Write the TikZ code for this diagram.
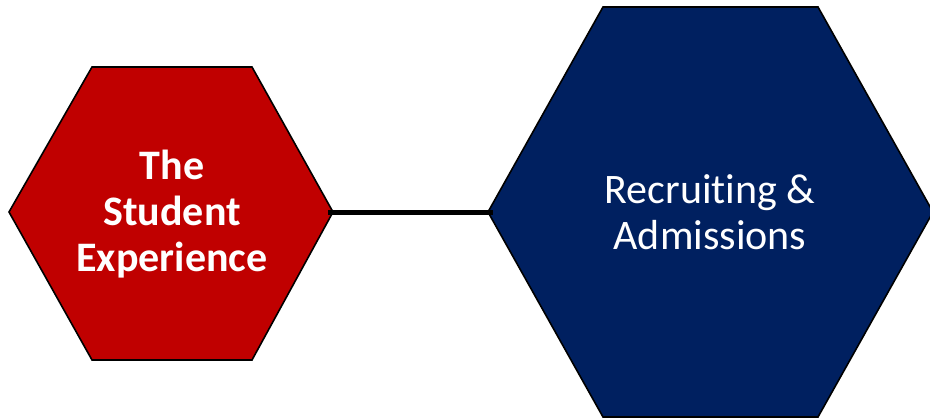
\documentclass[tikz,border=0pt]{standalone}
\usepackage{fontspec}
\setmainfont[Ligatures=NoCommon]{Carlito}
\definecolor{hexred}{HTML}{C00000}
\definecolor{hexblue}{HTML}{002060}
\tikzset{
  hexagon/.style={draw=black, line width=1.6pt, line join=miter},
  hexlabel/.style={text=white, align=center, font=\fontsize{42}{46}\selectfont},
  link/.style={draw=black, line width=5pt}
}
\begin{document}
\begin{tikzpicture}[x=1pt,y=-1pt]
\useasboundingbox (0,0) rectangle (930,420);
\fill[white] (0,0) rectangle (930,420);
\clip (0,0) rectangle (930,420);
% left hexagon
\coordinate (redW) at (9,212);
\coordinate (redE) at (333,212);
\fill[hexred] (redW) -- (92,67) -- (252,67) -- (redE) -- (252,360) -- (92,360) -- cycle;
\draw[hexagon] (redW) -- (92,67) -- (252,67) -- (redE) -- (252,360) -- (92,360) -- cycle;
% right hexagon
\coordinate (blueW) at (488,212);
\coordinate (blueE) at (933,212);
\fill[hexblue] (blueW) -- (603,7) -- (818,7) -- (blueE) -- (818,417) -- (603,417) -- cycle;
\draw[hexagon] (blueW) -- (603,7) -- (818,7) -- (blueE) -- (818,417) -- (603,417) -- cycle;
% connector
\draw[link, shorten <=-5pt, shorten >=-5pt] (redE) -- (blueW);
% labels
\node[hexlabel, font=\fontsize{42}{46}\selectfont\bfseries] (student) at (172,214) {The\\Student\\Experience};
\node[hexlabel] (recruit) at (710,212) {Recruiting \&\\Admissions};
\end{tikzpicture}
\end{document}
